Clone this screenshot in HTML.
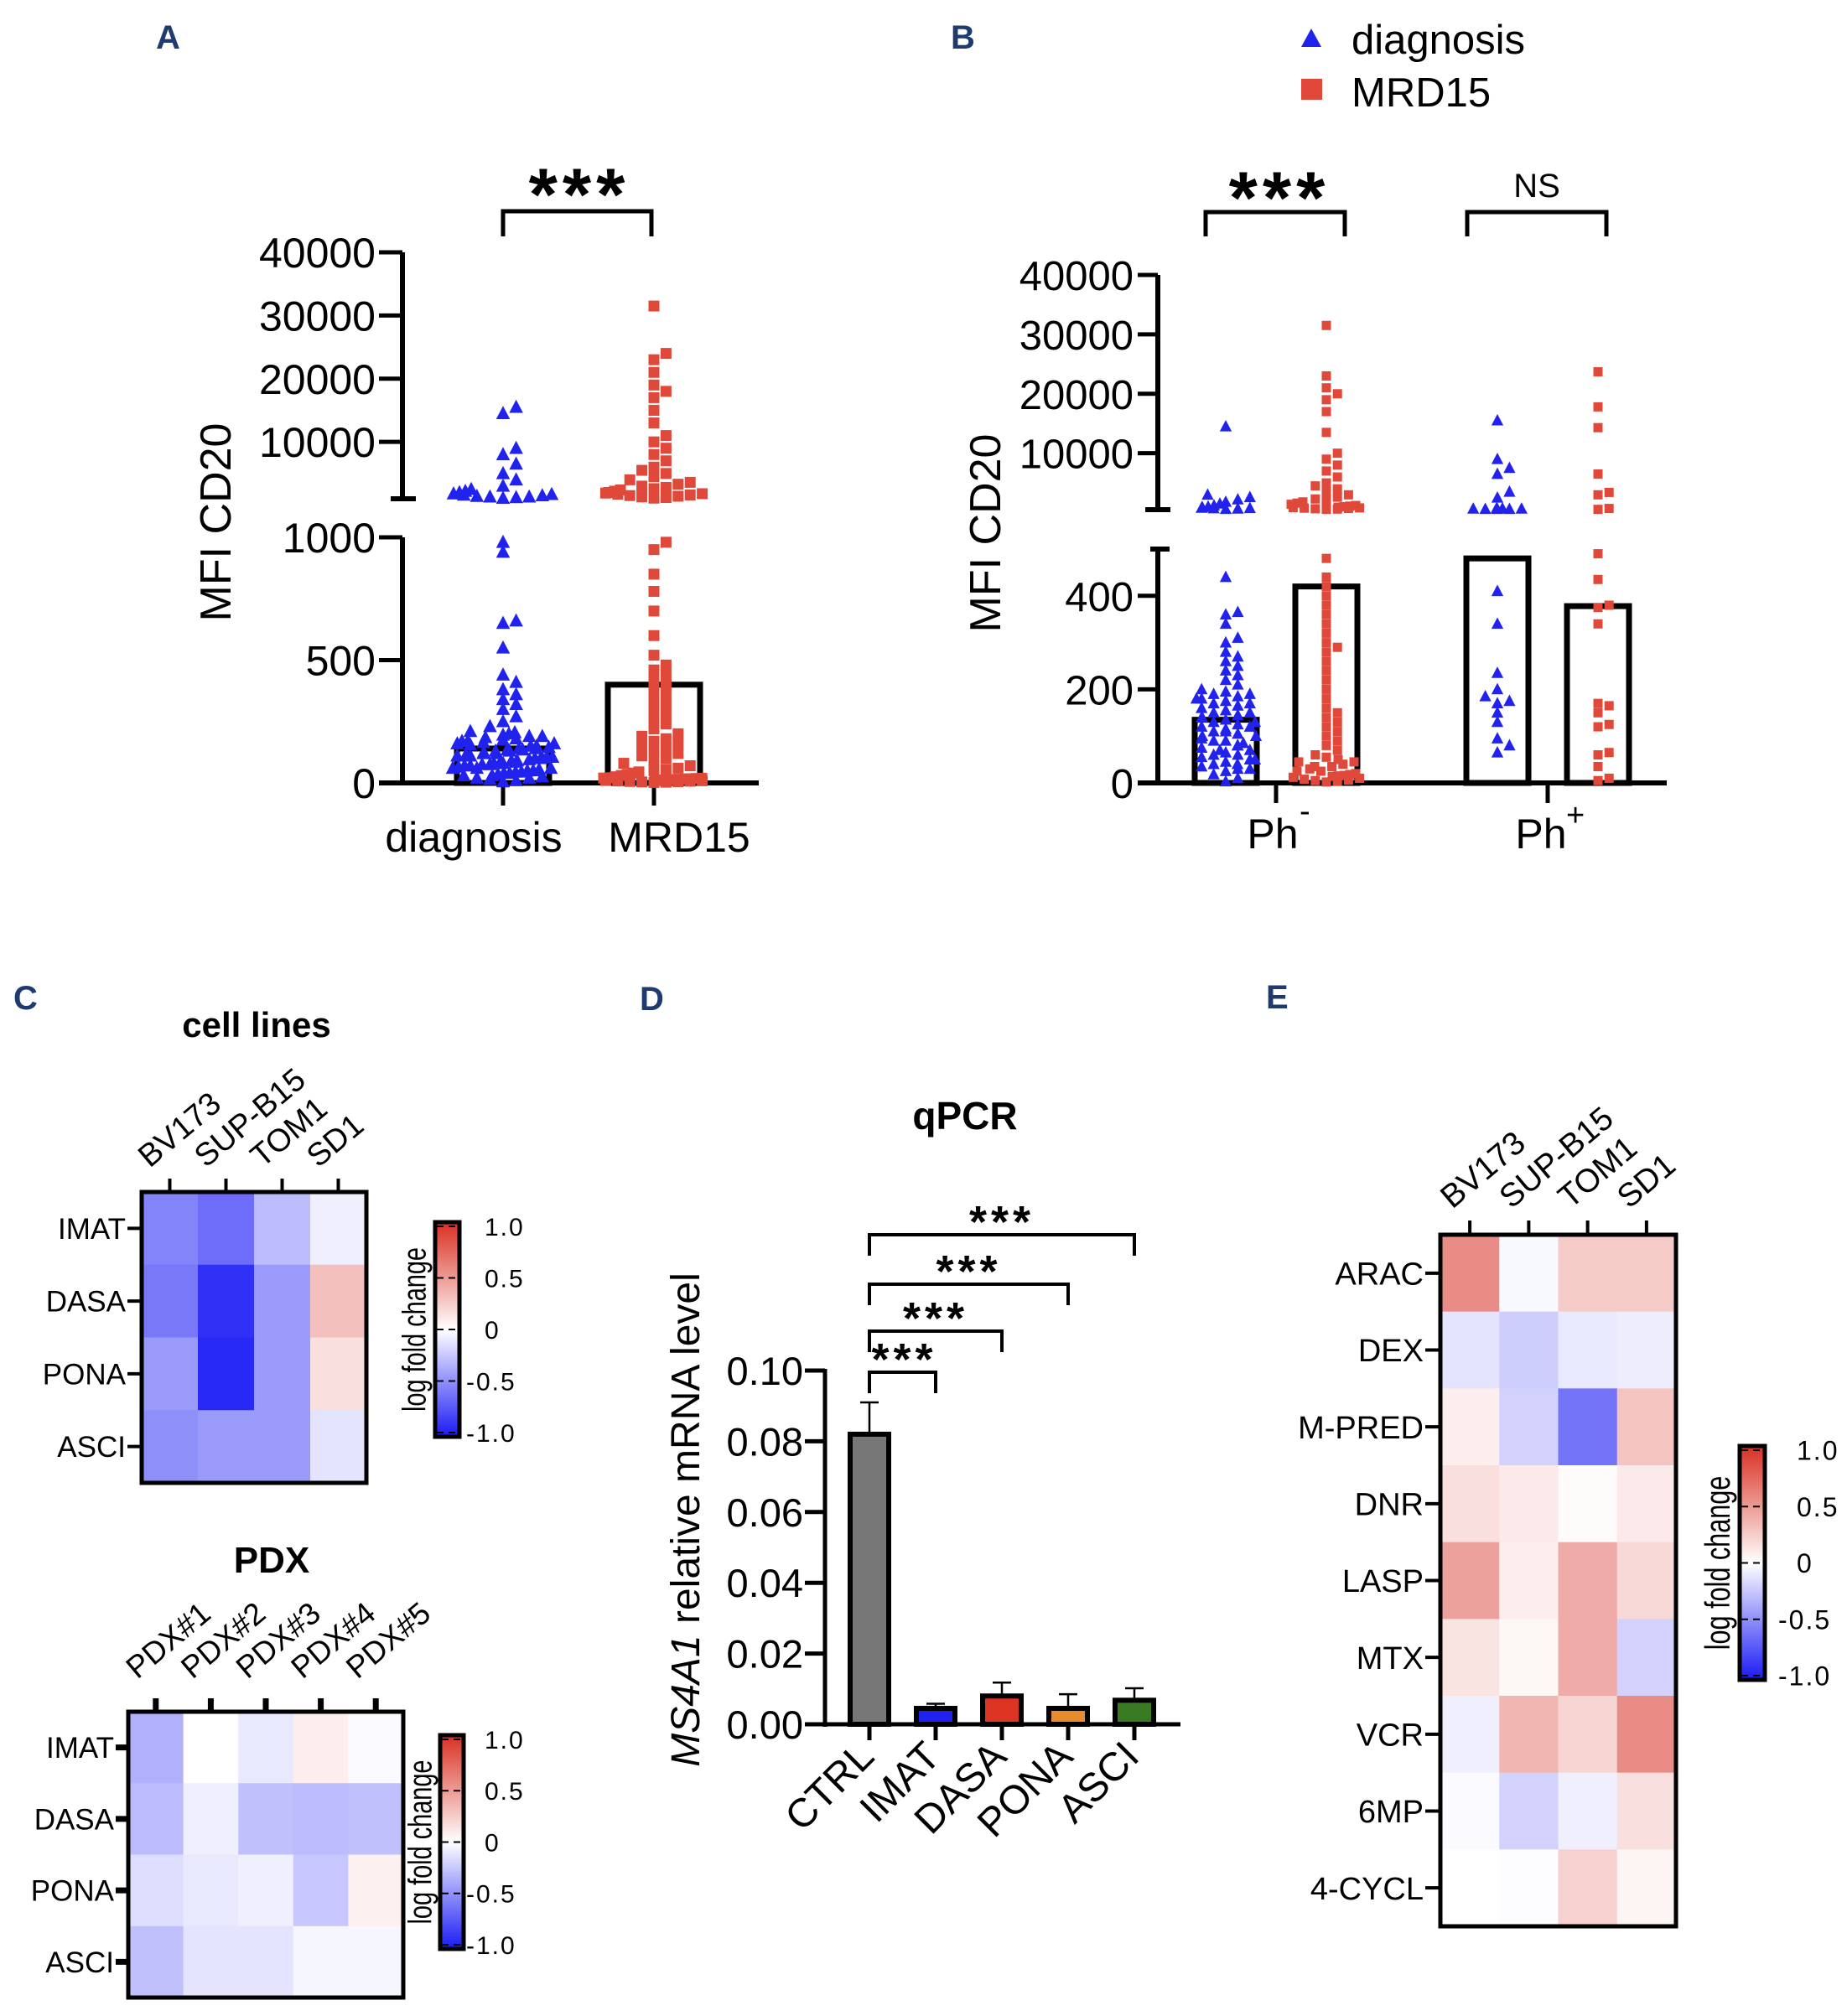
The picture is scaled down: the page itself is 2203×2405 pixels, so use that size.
<!DOCTYPE html>
<html><head><meta charset="utf-8"><style>
html,body{margin:0;padding:0;background:#fff;}
svg{display:block;font-family:"Liberation Sans",Arial,sans-serif;}
</style></head><body>
<svg id="fig" width="2203" height="2405" viewBox="0 0 2203 2405" xmlns="http://www.w3.org/2000/svg">
<rect x="0" y="0" width="2203" height="2405" fill="#fff"/>
<g font-weight="bold" fill="#1f3a6e" font-size="40">
<text x="186" y="58">A</text>
<text x="1134" y="58">B</text>
<text x="16" y="1204">C</text>
<text x="763" y="1205">D</text>
<text x="1510" y="1203">E</text>
</g>
<g>
<polygon points="1564,34 1552,56 1576,56" fill="#2222ee"/>
<text x="1612" y="64" font-size="49">diagnosis</text>
<rect x="1552" y="94" width="25" height="25" fill="#e0483a"/>
<text x="1612" y="127" font-size="49">MRD15</text>
</g>
<g id="root"></g>
</svg>
<script>
// ---------- Panel A data ----------
const aCategories = ['diagnosis','MRD15'];
const aBarMeans = [140, 400];
const aDiagValues = [5,10,15,20,25,30,35,40,45,50,55,60,65,70,75,80,85,90,95,100,100,105,110,115,120,125,130,135,140,145,150,155,160,165,170,175,180,185,190,195,200,205,210,20,30,40,50,60,70,80,90,110,130,150,170,190,60,80,100,120,140,160,45,75,105,135,230,250,270,300,320,340,360,380,410,440,550,650,660,940,980,1100,1200,1300,1400,1500,1600,1800,2000,2200,2500,1300,1700,3000,4000,5000,6500,8000,9000,14500,15500];
const aMrdValues = [2,4,6,8,10,12,14,16,18,20,3,5,7,9,11,13,15,17,19,21,25,30,35,40,45,50,55,60,70,80,90,100,110,120,130,140,150,160,170,180,190,200,220,240,260,280,300,320,340,360,380,400,420,440,460,480,520,600,700,780,850,950,980,1100,1200,1300,1400,1500,1600,1700,1800,1900,2000,2200,2400,2600,2800,3000,3300,3600,4000,4500,5000,5500,6000,7000,8000,9000,10000,11000,13000,15000,17000,18000,19000,21000,23000,24000,31500];
const aUpperTicks = [10000,20000,30000,40000];
const aLowerTicks = [0,500,1000];
// ---------- Panel B data ----------
const bGroups = ['Ph-','Ph+'];
const bBarMeans = [135, 420, 480, 378];
const bDiagPhNeg = [3,10,18,25,30,35,40,45,50,55,60,65,70,75,80,85,90,95,100,105,110,115,120,125,130,135,140,145,150,155,160,165,170,175,180,185,190,195,200,210,220,230,240,250,260,270,280,300,310,340,360,365,440,30,50,70,90,110,130,150,170,190,60,100,140,180,120,80,40,600,650,700,750,800,900,1000,1200,1500,1800,2200,2600,3000,14500];
const bMrdPhNeg = [2,4,6,8,10,12,14,16,18,20,25,30,35,40,45,50,55,60,70,80,90,100,110,120,130,140,150,160,180,200,220,240,260,280,290,300,320,340,360,380,400,420,440,480,5,15,25,35,45,550,600,650,700,750,800,850,900,1000,1100,1200,1400,1600,1800,2000,2300,2600,3000,3500,4000,4500,5000,6000,7000,8000,9000,10000,13500,17000,19000,20000,21000,23000,31500];
const bDiagPhPos = [65,80,95,130,150,170,175,185,200,235,340,410,600,600,700,700,650,600,650,2500,3500,6500,7500,9000,15500];
const bMrdPhPos = [5,10,35,60,65,120,125,150,165,170,340,375,380,435,490,550,700,3000,3400,6500,14300,17800,23700];
const bUpperTicks = [10000,20000,30000,40000];
const bLowerTicks = [0,200,400];
// ---------- Panel C data ----------
const cCols = ['BV173','SUP-B15','TOM1','SD1'];
const cRows = ['IMAT','DASA','PONA','ASCI'];
const cValues = [[-0.55,-0.65,-0.3,-0.07],[-0.6,-0.92,-0.45,0.3],[-0.45,-0.95,-0.45,0.15],[-0.5,-0.45,-0.45,-0.12]];
const pdxCols = ['PDX#1','PDX#2','PDX#3','PDX#4','PDX#5'];
const pdxRows = ['IMAT','DASA','PONA','ASCI'];
const pdxValues = [[-0.35,0.0,-0.1,0.08,-0.02],[-0.3,-0.07,-0.28,-0.3,-0.28],[-0.15,-0.1,-0.07,-0.25,0.07],[-0.28,-0.12,-0.12,-0.04,-0.04]];
const cbarTicks = ['1.0','0.5','0','-0.5','-1.0'];
// ---------- Panel D data ----------
const dCats = ['CTRL','IMAT','DASA','PONA','ASCI'];
const dMeans = [0.082,0.0045,0.008,0.0045,0.0068];
const dErrs = [0.009,0.0013,0.0038,0.004,0.0034];
const dColors = ['#777777','#2222ee','#dd3322','#e88a2e','#3a7a22'];
const dTicks = [0,0.02,0.04,0.06,0.08,0.10];
// ---------- Panel E data ----------
const eCols = ['BV173','SUP-B15','TOM1','SD1'];
const eRows = ['ARAC','DEX','M-PRED','DNR','LASP','MTX','VCR','6MP','4-CYCL'];
const eValues = [[0.55,-0.03,0.25,0.25],[-0.12,-0.22,-0.1,-0.08],[0.08,-0.2,-0.62,0.28],[0.15,0.1,0.02,0.1],[0.45,0.08,0.4,0.18],[0.13,0.04,0.4,-0.2],[-0.07,0.35,0.2,0.55],[-0.02,-0.2,-0.07,0.15],[0.0,-0.01,0.22,0.05]];

const NS='http://www.w3.org/2000/svg';
const root=document.getElementById('root');
function mk(tag,attrs,parent){const e=document.createElementNS(NS,tag);for(const k in attrs)e.setAttribute(k,attrs[k]);(parent||root).appendChild(e);return e;}
function txt(str,attrs){const e=mk('text',attrs);e.textContent=str;return e;}
function line(x1,y1,x2,y2,w){return mk('line',{x1:x1,y1:y1,x2:x2,y2:y2,stroke:'#000','stroke-width':w||5});}
function lin(v,s){return s.y0+(v-s.v0)*(s.y1-s.y0)/(s.v1-s.v0);}
function brokenScale(v,lo,up){return v>lo.v1 ? lin(v,up) : lin(v,lo);}
function swarm(vals,cx,scale,size,half){
  const pts=vals.map(v=>({v:v,y:scale(v)})).sort((a,b)=>b.y-a.y);
  const placed=[];
  pts.forEach(p=>{
    let best=0;
    for(let k=0;k<40;k++){
      const off=(k%2?1:-1)*Math.ceil(k/2)*size*0.6;
      if(Math.abs(off)>half)continue;
      const ok=placed.every(q=>Math.abs(q.y-p.y)>=size*0.9||Math.abs(q.x-(cx+off))>=size);
      if(ok){best=off;break;}
      best=((placed.length*7)%Math.round(2*half))-half;
    }
    p.x=cx+best;placed.push(p);
  });
  return placed;
}
function tri(x,y,s,parent){return mk('polygon',{points:`${x},${y-s*0.6} ${x-s*0.55},${y+s*0.45} ${x+s*0.55},${y+s*0.45}`,fill:'#2222ee'},parent);}
function sq(x,y,s,parent){return mk('rect',{x:x-s/2,y:y-s/2,width:s,height:s,fill:'#e0483a'},parent);}

// ================= PANEL A =================
(function(){
  const lo={v0:0,y0:934,v1:1000,y1:641}, up={v0:1000,y0:595,v1:40000,y1:301};
  const sc=v=>brokenScale(v,lo,up);
  const ax=480;
  let e=line(ax,301,ax,595,6);
  
  e=line(ax,641,ax,937,6);
  
  e=line(466,595,496,595,6);
  
  e=line(452,934,905,934,6);
  
  aUpperTicks.forEach(t=>{
    const y=lin(t,up);
    let l=line(452,y,ax,y,5);
    
    let tx=txt(String(t),{x:448,y:y+18,'font-size':50,'text-anchor':'end'});
    
  });
  aLowerTicks.forEach(t=>{
    const y=lin(t,lo);
    let l=line(452,y,ax,y,5);
    
    let tx=txt(String(t),{x:448,y:y+18,'font-size':50,'text-anchor':'end'});
    
  });
  const cx=[600,780];
  aCategories.forEach((c,i)=>{
    let b=mk('rect',{x:cx[i]-55,y:sc(aBarMeans[i]),width:110,height:934-sc(aBarMeans[i]),fill:'none',stroke:'#000','stroke-width':7});
    
    let t=line(cx[i],934,cx[i],961,5);
    
    let l=txt(c,{x:cx[i]+(i?30:-35),y:1016,'font-size':50,'text-anchor':'middle'});
    
  });
  const g1=mk('g',{});
  
  swarm(aDiagValues,cx[0],sc,13,62).forEach(p=>{const m=tri(p.x,p.y,15,g1);
    });
  const g2=mk('g',{});
  
  swarm(aMrdValues,cx[1],sc,12,62).forEach(p=>{const m=sq(p.x,p.y,13,g2);
    });
  let br=mk('path',{d:'M600,282 V252 H777 V282',fill:'none',stroke:'#000','stroke-width':5});
  
  let st=txt('***',{x:691,y:262,'font-size':88,'font-weight':'bold','text-anchor':'middle','letter-spacing':6});
  
  let yt=txt('MFI CD20',{x:0,y:0,'font-size':52,'text-anchor':'middle','dominant-baseline':'central',transform:'translate(258,623) rotate(-90)'});
  
})();

// ================= PANEL B =================
(function(){
  const lo={v0:0,y0:934,v1:500,y1:655}, up={v0:500,y0:608,v1:40000,y1:328};
  const sc=v=>brokenScale(v,lo,up);
  const ax=1381;
  let e=line(ax,328,ax,608,6);
  
  e=line(ax,655,ax,937,6);
  
  e=line(1366,608,1396,608,6);
  
  e=line(1372,655,1395,655,6);
  
  e=line(1357,934,1988,934,6);
  
  bUpperTicks.forEach(t=>{
    const y=lin(t,up);
    let l=line(1357,y,ax,y,5);
    
    let tx=txt(String(t),{x:1352,y:y+18,'font-size':49,'text-anchor':'end'});
    
  });
  bLowerTicks.forEach(t=>{
    const y=lin(t,lo);
    let l=line(1357,y,ax,y,5);
    
    let tx=txt(String(t),{x:1352,y:y+18,'font-size':49,'text-anchor':'end'});
    
  });
  const gx=[1522,1846];
  bGroups.forEach((g,i)=>{
    let t=line(gx[i],934,gx[i],958,5);
    
    let l=txt('Ph',{x:gx[i]-(i?8:4),y:1012,'font-size':50,'text-anchor':'middle'});
    
    let s=txt(i?'+':'-',{x:gx[i]+(i?22:28),y:(i?985:980),'font-size':38});
    
  });
  const bx=[1462,1582,1786,1906];
  bBarMeans.forEach((m,i)=>{
    let b=mk('rect',{x:bx[i]-37,y:sc(m),width:74,height:934-sc(m),fill:'none',stroke:'#000','stroke-width':7});
    
  });
  const sets=[[bDiagPhNeg,0,'tri'],[bMrdPhNeg,1,'sq'],[bDiagPhPos,2,'tri'],[bMrdPhPos,3,'sq']];
  sets.forEach(s=>{
    const g=mk('g',{});
    
    swarm(s[0],bx[s[1]],sc,s[2]=='tri'?12:11,s[1]>=2?40:42).forEach(p=>{
      const m=s[2]=='tri'?tri(p.x,p.y,13,g):sq(p.x,p.y,11,g);
      
      
    });
  });
  let br=mk('path',{d:'M1438,282 V253 H1604 V282',fill:'none',stroke:'#000','stroke-width':5});
  
  let st=txt('***',{x:1526,y:266,'font-size':88,'font-weight':'bold','text-anchor':'middle','letter-spacing':6});
  
  br=mk('path',{d:'M1750,282 V253 H1916 V282',fill:'none',stroke:'#000','stroke-width':5});
  
  st=txt('NS',{x:1833,y:235,'font-size':40,'text-anchor':'middle'});
  
  let yt=txt('MFI CD20',{x:0,y:0,'font-size':52,'text-anchor':'middle','dominant-baseline':'central',transform:'translate(1176,636) rotate(-90)'});
  
})();

// ================= Heatmap helper =================
function heatColor(v){
  v=Math.max(-1,Math.min(1,v));
  let r,g,b;
  if(v>=0){r=255-v*(255-215);g=255-v*(255-45);b=255-v*(255-35);}
  else{const a=-v;r=255-a*(255-30);g=255-a*(255-30);b=255-a*(255-245);}
  return `rgb(${Math.round(r)},${Math.round(g)},${Math.round(b)})`;
}
function heatmap(p){
  const cw=(p.x1-p.x0)/p.cols.length, rh=(p.y1-p.y0)/p.rows.length;
  const g=mk('g',{});
  
  p.vals.forEach((row,ri)=>row.forEach((v,ci)=>{
    const c=mk('rect',{x:p.x0+ci*cw,y:p.y0+ri*rh,width:cw+0.5,height:rh+0.5,fill:heatColor(v)},g);
    
  }));
  const f=mk('rect',{x:p.x0,y:p.y0,width:p.x1-p.x0,height:p.y1-p.y0,fill:'none',stroke:'#000','stroke-width':p.bw});
  
  p.cols.forEach((c,ci)=>{
    const x=p.x0+(ci+0.5)*cw;
    const t=line(x,p.y0-p.tick,x,p.y0,p.tw);
    
    const lx=x-p.lx, ly=p.y0-p.ly;
    const l=txt(c,{x:lx,y:ly,'font-size':p.cfs||p.fs,transform:`rotate(-40 ${lx} ${ly})`});
    
  });
  p.rows.forEach((r,ri)=>{
    const y=p.y0+(ri+0.5)*rh;
    const t=line(p.x0-p.rtick,y,p.x0,y,p.tw);
    
    const l=txt(r,{x:p.x0-p.rtick-2,y:y+p.fs*0.36,'font-size':p.fs,'text-anchor':'end'});
    
  });
}
let gradId=0;
function colorbar(p){
  const id='grad'+(gradId++);
  const defs=mk('defs',{});
  const lg=mk('linearGradient',{id:id,x1:0,y1:0,x2:0,y2:1},defs);
  [[0,'#d92f22'],[0.5,'#ffffff'],[1,'#1a1af5']].forEach(s=>mk('stop',{offset:s[0],'stop-color':s[1]},lg));
  const r=mk('rect',{x:p.x,y:p.y0,width:p.w,height:p.y1-p.y0,fill:`url(#${id})`,stroke:'#000','stroke-width':5});
  
  cbarTicks.forEach((t,i)=>{
    const y=p.y0+5+i*(p.y1-p.y0-10)/4;
    const d=line(p.x+2,y,p.x+p.w-2,y,2);
    d.setAttribute('stroke-dasharray','8 6');
    
    const l=txt(t,{x:p.lx+(t[0]=='-'?0:22),y:y+p.fs*0.36,'font-size':p.fs,'letter-spacing':2});
    
  });
  const tt=txt('log fold change',{x:0,y:0,'font-size':p.tfs,'text-anchor':'middle','dominant-baseline':'central',transform:`translate(${p.tx},${(p.y0+p.y1)/2}) rotate(-90) scale(0.85,1.15)`});
  
}

// ================= PANEL C =================
let t=txt('cell lines',{x:306,y:1237,'font-size':42,'font-weight':'bold','text-anchor':'middle'});

heatmap({name:'c-cell-lines',cols:cCols,rows:cRows,vals:cValues,x0:169,x1:437,y0:1422,y1:1769,bw:5,tick:16,tw:4,rtick:17,lx:24,ly:28,fs:35,cfs:38});
colorbar({name:'c-cell-lines',x:519,w:29,y0:1458,y1:1714,lx:556,fs:30,tx:495,tfs:34});
t=txt('PDX',{x:324,y:1876,'font-size':44,'font-weight':'bold','text-anchor':'middle'});

heatmap({name:'c-pdx',cols:pdxCols,rows:pdxRows,vals:pdxValues,x0:153,x1:481,y0:2042,y1:2383,bw:5,tick:16,tw:7,rtick:15,lx:22,ly:38,fs:35,cfs:37});
colorbar({name:'c-pdx',x:525,w:28,y0:2070,y1:2325,lx:556,fs:30,tx:502,tfs:34});

// ================= PANEL D =================
(function(){
  const y0=2057, y1=1635, vmax=0.10;
  const sy=v=>y0-(v/vmax)*(y0-y1);
  const tx=[1037,1116,1195,1274,1353];
  let tt=txt('qPCR',{x:1151,y:1347,'font-size':46,'font-weight':'bold','text-anchor':'middle'});
  
  let e=line(984,1633,984,2060,5);
  
  dTicks.forEach(v=>{
    const y=sy(v);
    const l=line(960,y,984,y,5);
    
    const lb=txt(v.toFixed(2),{x:958,y:y+17,'font-size':47,'text-anchor':'end'});
    
  });
  dCats.forEach((c,i)=>{
    const x=tx[i], top=sy(dMeans[i]);
    const eb=mk('path',{d:`M${x},${top} V${sy(dMeans[i]+dErrs[i])} M${x-11},${sy(dMeans[i]+dErrs[i])} H${x+11}`,stroke:'#000','stroke-width':2.5,fill:'none'});
    
    const b=mk('rect',{x:x-23,y:top,width:46,height:y0-top,fill:dColors[i],stroke:'#000','stroke-width':6});
    
    const tk=line(x,y0,x,2076,5);
    
    const lb=txt(c,{x:x+8,y:2098,'font-size':48,'text-anchor':'end',transform:`rotate(-45 ${x+8} 2098)`});
    
  });
  e=line(967,y0,1408,y0,5);
  
  const bTops=[1637,1588,1532,1473];
  for(let k=1;k<5;k++){
    const yt=bTops[k-1];
    const br=mk('path',{d:`M${tx[0]},${yt+25} V${yt} H${tx[k]} V${yt+25}`,fill:'none',stroke:'#000','stroke-width':4});
    
    const st=txt('***',{x:(tx[0]+tx[k])/2+(k==1?2:0),y:yt+3,'font-size':54,'font-weight':'bold','text-anchor':'middle','letter-spacing':5});
    
  }
  const yt=mk('text',{x:0,y:0,'font-size':48,'text-anchor':'middle','dominant-baseline':'central',transform:'translate(818,1813) rotate(-90)'});
  
  const it=mk('tspan',{'font-style':'italic'},yt);it.textContent='MS4A1';
  const rt=mk('tspan',{},yt);rt.textContent=' relative mRNA level';
})();

// ================= PANEL E =================
heatmap({name:'e-heatmap',cols:eCols,rows:eRows,vals:eValues,x0:1718,x1:1999,y0:1473,y1:2298,bw:5,tick:17,tw:4,rtick:18,lx:21,ly:30,fs:38,cfs:39});
colorbar({name:'e',x:2075,w:30,y0:1725,y1:2004,lx:2121,fs:32,tx:2049,tfs:36});
</script>
</body></html>
